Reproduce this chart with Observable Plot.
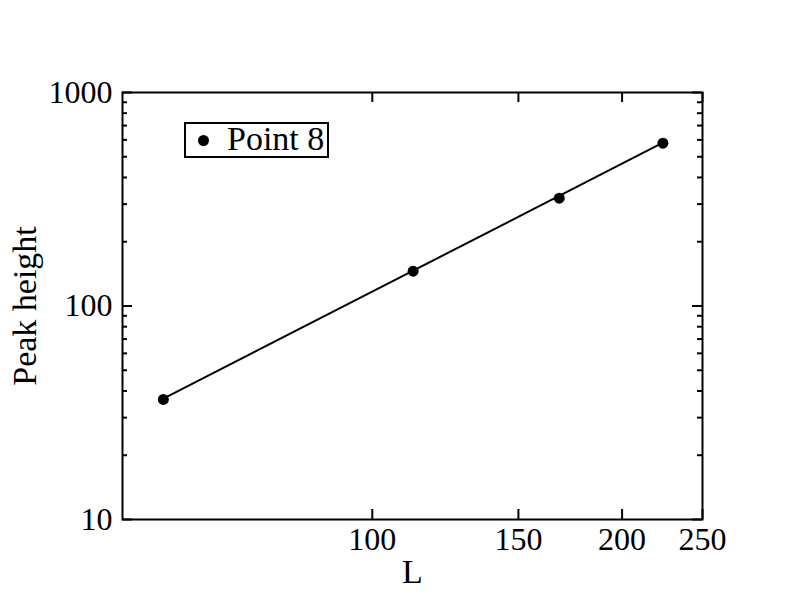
<!DOCTYPE html>
<html>
<head>
<meta charset="utf-8">
<script src="https://cdn.jsdelivr.net/npm/d3@7"></script>
<script src="https://cdn.jsdelivr.net/npm/@observablehq/plot@0.6"></script>
<style>
  html, body { margin: 0; padding: 0; background: #fff; }
  #wrap { position: relative; width: 792px; height: 612px; }
  #legend {
    position: absolute; left: 184px; top: 122px; width: 141px; height: 32px;
    border: 2px solid #000; background: #fff;
    font-family: "Liberation Serif", "Times New Roman", serif; font-size: 34px;
  }
  #legend .dot { position: absolute; left: 12px; top: 11px; width: 11px; height: 11px; border-radius: 50%; background: #000; }
  #legend .lab { position: absolute; left: 41px; top: -3px; line-height: 36px; white-space: nowrap; }
</style>
</head>
<body>
<div id="wrap"><div id="legend"><span class="dot"></span><span class="lab">Point 8</span></div></div>
<script>
// Data
const L = [56, 112, 168, 224];
const peakHeight = [36.5, 145.5, 320, 579];
// Fitted power-law line (endpoints)
const fitL = [56, 224];
const fitHeight = [36.8, 582];
// Ticks
const xTicks = [100, 150, 200, 250];
const yMajor = [10, 100, 1000];
const yMinor = [20, 30, 40, 50, 60, 70, 80, 90, 200, 300, 400, 500, 600, 700, 800, 900];
const seriesName = "Point 8";

const W = 792, H = 612;
const mL = 122, mR = 90, mT = 92, mB = 93;
const pw = W - mL - mR, ph = H - mT - mB;

const points = L.map((l, i) => ({L: l, h: peakHeight[i], s: seriesName}));
const fit = fitL.map((l, i) => ({L: l, h: fitHeight[i]}));

const plot = Plot.plot({
  width: W, height: H,
  marginLeft: mL, marginRight: mR, marginTop: mT, marginBottom: mB,
  style: {fontFamily: "'Liberation Serif', 'Times New Roman', serif", fontSize: "32px", color: "#000", background: "#fff"},
  x: {type: "log", domain: [50, 250]},
  y: {type: "log", domain: [10, 1000]},
  marks: [
    Plot.frame({stroke: "#000", strokeWidth: 2}),
    // major y ticks left/right
    Plot.tickY(yMajor, {y: d => d, insetRight: pw - 10, stroke: "#000", strokeWidth: 2}),
    Plot.tickY(yMajor, {y: d => d, insetLeft: pw - 10, stroke: "#000", strokeWidth: 2}),
    // minor y ticks left/right
    Plot.tickY(yMinor, {y: d => d, insetRight: pw - 5, stroke: "#000", strokeWidth: 2}),
    Plot.tickY(yMinor, {y: d => d, insetLeft: pw - 5, stroke: "#000", strokeWidth: 2}),
    // x ticks bottom/top
    Plot.tickX(xTicks, {x: d => d, insetTop: ph - 10, stroke: "#000", strokeWidth: 2}),
    Plot.tickX(xTicks, {x: d => d, insetBottom: ph - 10, stroke: "#000", strokeWidth: 2}),
    Plot.axisX(xTicks, {tickSize: 0, tickPadding: 8, tickFormat: d => String(d), fontSize: 32, label: null}),
    Plot.axisY(yMajor, {tickSize: 0, tickPadding: 10, tickFormat: d => String(d), fontSize: 32, label: null}),
    Plot.line(fit, {x: "L", y: "h", stroke: "#000", strokeWidth: 2}),
    Plot.dot(points, {x: "L", y: "h", r: 5.5, fill: "#000", stroke: "none"}),
    Plot.text(["Peak height"], {frameAnchor: "left", dx: -97, rotate: -90, fontSize: 34, textAnchor: "middle", lineAnchor: "middle", fill: "#000"}),
    Plot.text(["L"], {frameAnchor: "bottom", dy: 53, fontSize: 34, textAnchor: "middle", lineAnchor: "middle", fill: "#000"})
  ]
});
document.getElementById("wrap").prepend(plot);
</script>
</body>
</html>
